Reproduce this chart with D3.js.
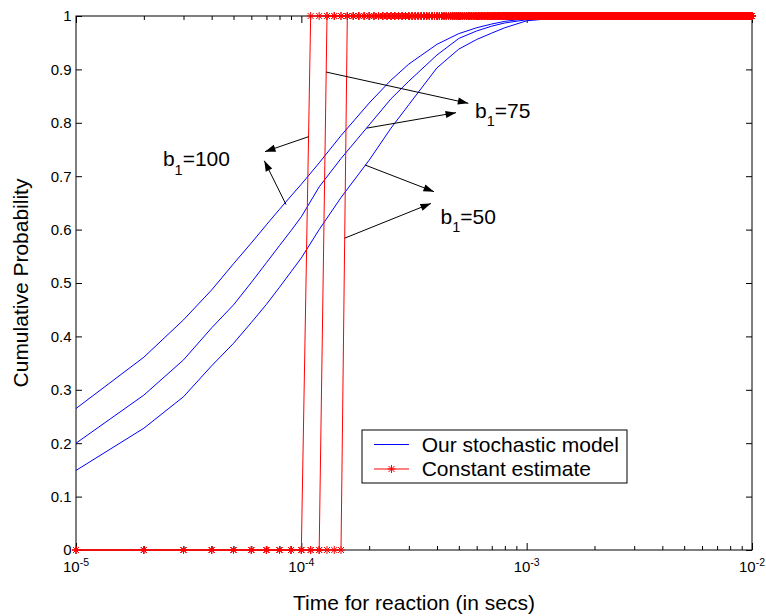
<!DOCTYPE html>
<html>
<head>
<meta charset="utf-8">
<script src="https://cdnjs.cloudflare.com/ajax/libs/d3/7.8.5/d3.min.js"></script>
<style>
body { margin: 0; background: #fff; }
text { font-family: "Liberation Sans", Arial, Helvetica, sans-serif; fill: #000; }
</style>
</head>
<body>
<div id="chart"></div>
<script>
// stochastic model: sample times (secs) and cumulative probability per b1
var modelTimes = [1e-5, 2e-5, 3e-5, 4e-5, 5e-5, 6e-5, 7e-5, 8e-5, 9e-5, 1e-4,
    1.2e-4, 1.5e-4, 2e-4, 2.5e-4, 3e-4, 4e-4, 5e-4, 6e-4, 7e-4, 8e-4,
    1e-3, 1.5e-3, 2e-3, 5e-3, 1e-2];
var model100 = [0.265, 0.361, 0.431, 0.487, 0.536, 0.575, 0.609, 0.638, 0.663, 0.685,
    0.725, 0.776, 0.837, 0.880, 0.910, 0.947, 0.967, 0.978, 0.985, 0.990,
    0.995, 0.999, 1, 1, 1];
var model75 = [0.200, 0.290, 0.356, 0.416, 0.459, 0.501, 0.538, 0.570, 0.598, 0.624,
    0.680, 0.733, 0.796, 0.845, 0.878, 0.927, 0.958, 0.972, 0.981, 0.987,
    0.993, 0.999, 1, 1, 1];
var model50 = [0.149, 0.228, 0.287, 0.345, 0.387, 0.426, 0.460, 0.492, 0.521, 0.547,
    0.600, 0.660, 0.730, 0.790, 0.834, 0.903, 0.938, 0.956, 0.968, 0.978,
    0.991, 0.998, 1, 1, 1];

// constant estimate: time at which the step to 1 happens (b1 = 100, 75, 50)
var constSteps = [1.1e-4, 1.3e-4, 1.6e-4];
var gridStep = 1e-5, gridCount = 1000;

// axis ticks
var xMajor = [1e-5, 1e-4, 1e-3, 1e-2];
var xExps = ["-5", "-4", "-3", "-2"];
var yTicks = [0, 0.1, 0.2, 0.3, 0.4, 0.5, 0.6, 0.7, 0.8, 0.9, 1];
var yTickLabels = ["0", "0.1", "0.2", "0.3", "0.4", "0.5", "0.6", "0.7", "0.8", "0.9", "1"];

// annotations (data coords)
var labelNames = ["100", "75", "50"];
var labelPos = [[2.43e-5, 0.719], [5.90e-4, 0.809], [4.15e-4, 0.6105]];
var arrowFrom = [[1.077e-4, 0.774], [8.55e-5, 0.647], [1.2895e-4, 0.895],
    [1.95e-4, 0.790], [1.917e-4, 0.721], [1.558e-4, 0.584]];
var arrowTo = [[6.90e-5, 0.746], [6.85e-5, 0.729], [5.51e-4, 0.8365],
    [4.86e-4, 0.819], [3.88e-4, 0.671], [3.76e-4, 0.649]];

var margin = {top: 16, right: 14, bottom: 66, left: 76},
    width = 766 - margin.left - margin.right,
    height = 616 - margin.top - margin.bottom;

var svg = d3.select("#chart")
    .append("svg")
    .attr("width", 766)
    .attr("height", 616)
    .style("display", "block");

svg.append("rect").attr("width", 766).attr("height", 616).attr("fill", "#fff");

var g = svg.append("g")
    .attr("transform", "translate(" + margin.left + "," + margin.top + ")");

var x = d3.scaleLog().domain([1e-5, 1e-2]).range([0, width]);
var y = d3.scaleLinear().domain([0, 1]).range([height, 0]);

// minor ticks 2..9 in every decade
var xMinor = [];
xMajor.slice(0, -1).forEach(function (d) {
    for (var m = 2; m < 10; m++) xMinor.push(d * m);
});

function tidy(sel) {
    sel.select(".domain").remove();
    sel.selectAll("line").attr("stroke", "#000");
}

// ticks inward on all four sides
g.append("g").attr("transform", "translate(0," + height + ")")
    .call(d3.axisBottom(x).tickValues(xMajor).tickSize(-7).tickFormat("")).call(tidy);
g.append("g").attr("transform", "translate(0," + height + ")")
    .call(d3.axisBottom(x).tickValues(xMinor).tickSize(-4).tickFormat("")).call(tidy);
g.append("g")
    .call(d3.axisTop(x).tickValues(xMajor).tickSize(-7).tickFormat("")).call(tidy);
g.append("g")
    .call(d3.axisTop(x).tickValues(xMinor).tickSize(-4).tickFormat("")).call(tidy);

g.append("g")
    .call(d3.axisLeft(y).tickValues(yTicks).tickSize(-6).tickPadding(4.5)
        .tickFormat(function (d, i) { return yTickLabels[i]; }))
    .call(tidy)
    .selectAll("text")
    .attr("font-size", 15)
    .attr("font-family", "Liberation Sans, Arial, sans-serif")
    .attr("fill", "#000");
g.append("g").attr("transform", "translate(" + width + ",0)")
    .call(d3.axisRight(y).tickValues(yTicks).tickSize(-6).tickFormat("")).call(tidy);

g.append("rect")
    .attr("width", width)
    .attr("height", height)
    .attr("fill", "none")
    .attr("stroke", "#000")
    .attr("stroke-width", 1);

// x tick labels 10^n
var xl = g.append("g").selectAll("text")
    .data(xMajor)
    .enter()
    .append("text")
    .attr("x", function (d) { return x(d); })
    .attr("y", height + 22)
    .attr("text-anchor", "middle")
    .attr("font-size", 15);
xl.append("tspan").text("10");
xl.append("tspan")
    .attr("dy", -6)
    .attr("font-size", 10.5)
    .text(function (d, i) { return xExps[i]; });

// axis titles
svg.append("text")
    .attr("x", margin.left + width / 2)
    .attr("y", 610)
    .attr("text-anchor", "middle")
    .attr("font-size", 21)
    .text("Time for reaction (in secs)");
svg.append("text")
    .attr("transform", "translate(28," + (margin.top + height / 2) + ") rotate(-90)")
    .attr("text-anchor", "middle")
    .attr("font-size", 21)
    .text("Cumulative Probability");

// blue model curves
var line = d3.line()
    .x(function (d) { return x(d[0]); })
    .y(function (d) { return y(d[1]); });

[model100, model75, model50].forEach(function (vals) {
    g.append("path")
        .datum(modelTimes.map(function (t, i) { return [t, vals[i]]; }))
        .attr("fill", "none")
        .attr("stroke", "#0000ff")
        .attr("stroke-width", 1)
        .attr("d", line);
});

// red constant estimate: step function on the sample grid, with * markers
var gridTimes = d3.range(1, gridCount + 1).map(function (k) { return k * gridStep; });

function star(px, py) {
    return "M" + (px - 4) + "," + py + "h8" +
        "M" + px + "," + (py - 4) + "v8" +
        "M" + (px - 3) + "," + (py - 3) + "l6,6" +
        "M" + (px - 3) + "," + (py + 3) + "l6,-6";
}

constSteps.forEach(function (s) {
    var kStep = Math.round(s / gridStep);
    var pts = gridTimes.map(function (t, i) { return [t, (i + 1) >= kStep ? 1 : 0]; });
    g.append("path")
        .datum(pts)
        .attr("fill", "none")
        .attr("stroke", "#ff0000")
        .attr("stroke-width", 1)
        .attr("d", line);
    g.append("path")
        .attr("fill", "none")
        .attr("stroke", "#ff0000")
        .attr("stroke-width", 1)
        .attr("d", pts.map(function (d) { return star(x(d[0]), y(d[1])); }).join(""));
});

// arrows
svg.append("defs").append("marker")
    .attr("id", "head")
    .attr("markerUnits", "userSpaceOnUse")
    .attr("viewBox", "-11 -4 12 8")
    .attr("refX", 0)
    .attr("refY", 0)
    .attr("markerWidth", 12)
    .attr("markerHeight", 8)
    .attr("orient", "auto")
    .append("path")
    .attr("d", "M0,0L-10.5,-3.6L-10.5,3.6Z")
    .attr("fill", "#000");

arrowFrom.forEach(function (f, i) {
    var t = arrowTo[i];
    g.append("line")
        .attr("x1", x(f[0])).attr("y1", y(f[1]))
        .attr("x2", x(t[0])).attr("y2", y(t[1]))
        .attr("stroke", "#000")
        .attr("stroke-width", 1)
        .attr("marker-end", "url(#head)");
});

var lab = g.append("g").selectAll("text")
    .data(labelPos)
    .enter()
    .append("text")
    .attr("x", function (d) { return x(d[0]); })
    .attr("y", function (d) { return y(d[1]); })
    .attr("font-size", 21);
lab.append("tspan").text("b");
lab.append("tspan").attr("dy", 8.5).attr("font-size", 14.5).text("1");
lab.append("tspan").attr("dy", -8.5).text(function (d, i) { return "=" + labelNames[i]; });

// legend
var leg = svg.append("g").attr("transform", "translate(362,430)");
leg.append("rect")
    .attr("width", 265)
    .attr("height", 53)
    .attr("fill", "#fff")
    .attr("stroke", "#000")
    .attr("stroke-width", 1);
leg.append("line")
    .attr("x1", 12).attr("x2", 47).attr("y1", 14.5).attr("y2", 14.5)
    .attr("stroke", "#0000ff");
leg.append("text").attr("x", 59.7).attr("y", 22).attr("font-size", 21)
    .text("Our stochastic model");
leg.append("line")
    .attr("x1", 12).attr("x2", 47).attr("y1", 39).attr("y2", 39)
    .attr("stroke", "#ff0000");
leg.append("path").attr("d", star(29.5, 39)).attr("stroke", "#ff0000").attr("fill", "none");
leg.append("text").attr("x", 59.7).attr("y", 45.5).attr("font-size", 21)
    .text("Constant estimate");
</script>
</body>
</html>
